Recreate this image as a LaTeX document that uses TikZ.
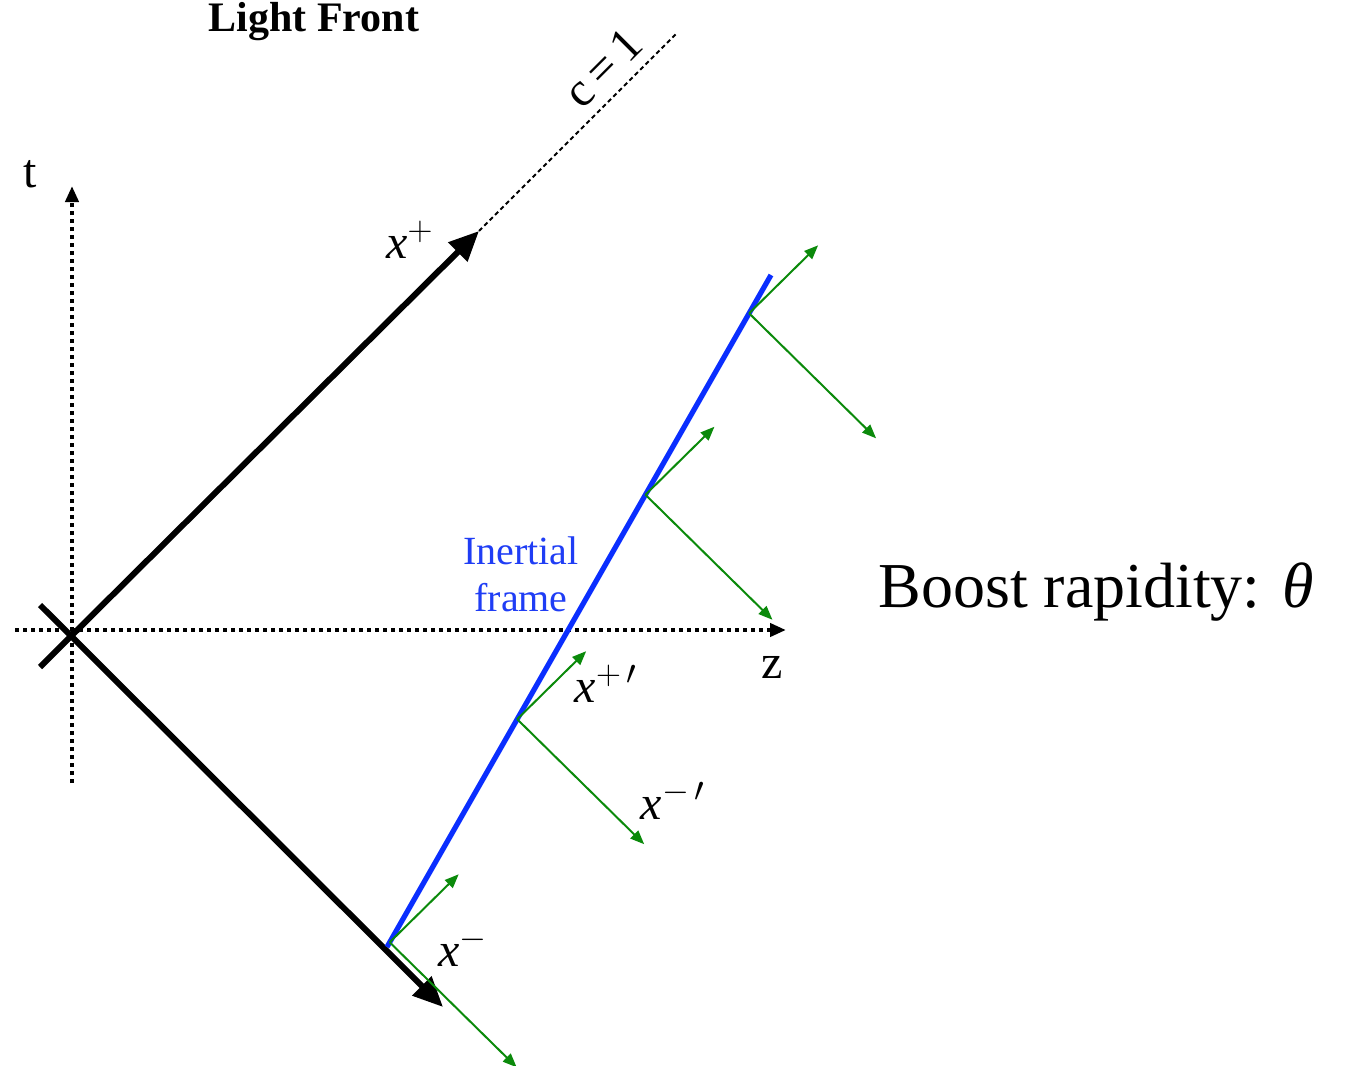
\documentclass[tikz,border=0pt]{standalone}
\usepackage{fontspec}
\setmainfont{Liberation Serif}
\usepackage{tikz}
\usetikzlibrary{arrows.meta,calc}
\definecolor{Ink}{HTML}{000000}
\definecolor{FrameBlue}{HTML}{0A2EFF}
\definecolor{LabelBlue}{HTML}{1F3DF5}
\definecolor{FrameGreen}{HTML}{0B8A0B}
\tikzset{
  axis/.style={line width=2pt,dash pattern=on 2pt off 2pt,draw=Ink,-{Triangle[length=8pt,width=6.5pt]}},
  lightray/.style={line width=3pt,draw=Ink,-{Triangle[length=15pt,width=13pt]}},
  lightcone/.style={line width=1pt,dash pattern=on 2.2pt off 1.6pt,draw=Ink},
  worldline/.style={line width=2.6pt,draw=FrameBlue},
  boosted/.style={line width=1pt,draw=FrameGreen,-{Triangle[length=7pt,width=5.5pt]}},
  lbl/.style={inner sep=0pt,font=\fontsize{24}{28}\selectfont}
}
\newcommand{\lfx}[1]{\textit{x}$^{#1}$}
\begin{document}
\begin{tikzpicture}[x=0.5pt,y=-0.5pt]
  \useasboundingbox (0,0) rectangle (1345,1066);
  % axes
  \coordinate (O) at (72,632);
  \coordinate (tbot) at (72,783);
  \coordinate (ttop) at (72,186);
  \coordinate (zleft) at (15,630);
  \coordinate (zright) at (786,630);
  \draw[axis] (tbot) -- (ttop);
  \draw[axis] (zleft) -- (zright);
  \node[lbl] (tlab) at (30,174) {t};
  \node[lbl] (zlab) at (772,667) {z};

  % light-front directions
  \coordinate (pstart) at (40,667);
  \coordinate (pend) at (479,231);
  \coordinate (mstart) at (40,605);
  \coordinate (mend) at (443,1007);
  \coordinate (cend) at (676,34);
  \draw[lightray] (pstart) -- (pend);
  \draw[lightray] (mstart) -- (mend);
  \draw[lightcone] (pend) -- (cend);
  \node[lbl,rotate=45] (clab) at (603,68) {c\,=\,1};
  \node[lbl] (xplus) at (410,240) {\lfx{+}};
  \node[lbl] (xminus) at (463,947) {\lfx{-}};
  \node[inner sep=0pt,font=\fontsize{21}{24}\selectfont\bfseries] (title) at (314,22) {Light Front};

  % inertial frame and boosted axes
  \coordinate (wbot) at (387,947);
  \coordinate (wtop) at (771,275);
  \draw[worldline] (wbot) -- (wtop);
  \foreach \s [count=\i] in {0.007,0.339,0.673,0.943} {
    \coordinate (f\i) at ($(wbot)!\s!(wtop)$);
    \draw[boosted] (f\i) -- ++(69,-68);
    \draw[boosted] (f\i) -- ++(127,125);
  }
  \node[lbl] (xplusb) at (606,684) {\lfx{+\,\prime}};
  \node[lbl] (xminusb) at (673,800) {\lfx{-\,\prime}};
  \node[inner sep=0pt,align=center,text=LabelBlue,font=\fontsize{20}{23.5}\selectfont] (inertial) at (521,574) {Inertial\\frame};
  \node[inner sep=0pt,font=\fontsize{32}{36}\selectfont] (boost) at (1096,592) {Boost rapidity: \textit{θ}};
\end{tikzpicture}
\end{document}
